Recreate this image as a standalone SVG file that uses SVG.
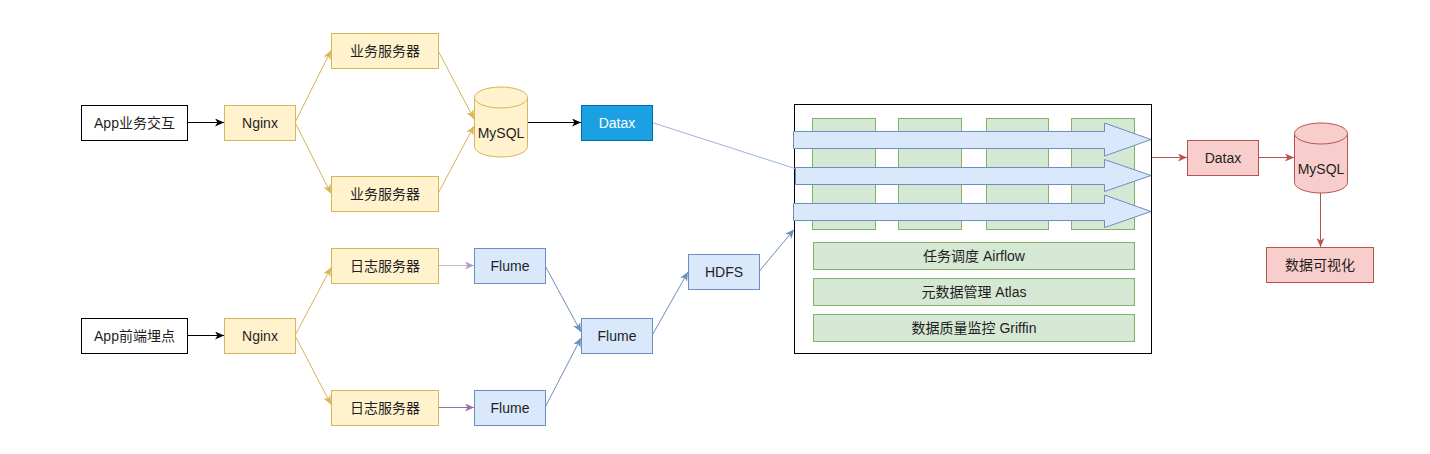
<svg xmlns="http://www.w3.org/2000/svg" width="1430" height="454" viewBox="0 0 1430 454">
<style>
text{font-family:"Liberation Sans","Noto Sans CJK SC",sans-serif;font-size:14px;fill:#1f1f1f;text-anchor:middle;dominant-baseline:central}
.plain{fill:#ffffff;stroke:#000000;stroke-width:1}
.yel{fill:#fff2cc;stroke:#d6b656;stroke-width:1}
.blu{fill:#dae8fc;stroke:#6c8ebf;stroke-width:1}
.grn{fill:#d5e8d4;stroke:#82b366;stroke-width:1}
.red{fill:#f8cecc;stroke:#b85450;stroke-width:1}
.dx{fill:#1ba1e2;stroke:#006eaf;stroke-width:1}
.c{fill:none;stroke-width:1}
.ck{stroke:#000000;marker-end:url(#mk)}
.cy{stroke:#d6b656;marker-end:url(#my)}
.cp{stroke:#9673a6;marker-end:url(#mp)}
.cpl{stroke:#c7b1d3;marker-end:url(#mpl)}
.cb{stroke:#6c8ebf;marker-end:url(#mb)}
.cbl{stroke:#9db3d8}
.cr{stroke:#b85450;marker-end:url(#mr)}
.wt{fill:#ffffff}
</style>
<defs>
<marker id="mk" markerWidth="10" markerHeight="8" refX="9" refY="4" orient="auto" markerUnits="userSpaceOnUse"><path d="M0,0 L9,4 L0,8 L2.5,4 Z" fill="#000000"/></marker>
<marker id="my" markerWidth="10" markerHeight="8" refX="9" refY="4" orient="auto" markerUnits="userSpaceOnUse"><path d="M0,0 L9,4 L0,8 L2.5,4 Z" fill="#d6b656"/></marker>
<marker id="mp" markerWidth="10" markerHeight="8" refX="9" refY="4" orient="auto" markerUnits="userSpaceOnUse"><path d="M0,0 L9,4 L0,8 L2.5,4 Z" fill="#9673a6"/></marker>
<marker id="mpl" markerWidth="10" markerHeight="8" refX="9" refY="4" orient="auto" markerUnits="userSpaceOnUse"><path d="M0,0 L9,4 L0,8 L2.5,4 Z" fill="#b59cc4"/></marker>
<marker id="mb" markerWidth="10" markerHeight="8" refX="9" refY="4" orient="auto" markerUnits="userSpaceOnUse"><path d="M0,0 L9,4 L0,8 L2.5,4 Z" fill="#6c8ebf"/></marker>
<marker id="mr" markerWidth="10" markerHeight="8" refX="9" refY="4" orient="auto" markerUnits="userSpaceOnUse"><path d="M0,0 L9,4 L0,8 L2.5,4 Z" fill="#b85450"/></marker>
</defs>
<rect width="1430" height="454" fill="#ffffff"/>

<g id="warehouse">
<rect class="plain" x="794.5" y="104.5" width="357" height="249"/>
</g>
<g id="col1"><rect class="grn" x="812.5" y="118.5" width="63" height="111"/></g>
<g id="col2"><rect class="grn" x="898.5" y="118.5" width="63" height="111"/></g>
<g id="col3"><rect class="grn" x="986.5" y="118.5" width="62" height="111"/></g>
<g id="col4"><rect class="grn" x="1071.5" y="118.5" width="63" height="111"/></g>
<g id="airflow"><rect class="grn" x="813.5" y="242.5" width="321" height="27"/><text x="974" y="256">任务调度 Airflow</text></g>
<g id="atlas"><rect class="grn" x="813.5" y="278.5" width="321" height="27"/><text x="974" y="292">元数据管理 Atlas</text></g>
<g id="griffin"><rect class="grn" x="813.5" y="314.5" width="321" height="27"/><text x="974" y="328">数据质量监控 Griffin</text></g>

<g id="connectors">
<line class="c ck" x1="187" y1="122.5" x2="224" y2="122.5"/>
<line class="c cy" x1="295" y1="122.5" x2="331" y2="50.5"/>
<line class="c cy" x1="295" y1="122.5" x2="331" y2="193.5"/>
<line class="c cy" x1="438" y1="50.5" x2="474" y2="119"/>
<line class="c cy" x1="438" y1="193.5" x2="474" y2="126"/>
<line class="c ck" x1="527" y1="122.5" x2="581" y2="122.5"/>
<line class="c cbl" x1="652" y1="122.5" x2="795" y2="168.5"/>
<line class="c ck" x1="187" y1="335.5" x2="224" y2="335.5"/>
<line class="c cy" x1="295" y1="335.5" x2="331" y2="267.5"/>
<line class="c cy" x1="295" y1="335.5" x2="331" y2="404.5"/>
<line class="c cpl" x1="438" y1="265.5" x2="474" y2="265.5"/>
<line class="c cp" x1="438" y1="407.5" x2="474" y2="407.5"/>
<line class="c cb" x1="545" y1="265.5" x2="581" y2="332"/>
<line class="c cb" x1="545" y1="407.5" x2="581" y2="338"/>
<line class="c cb" x1="652" y1="335.5" x2="688" y2="272"/>
<line class="c cb" x1="759" y1="271.5" x2="794" y2="229.5"/>
<line class="c cr" x1="1152" y1="157.5" x2="1187" y2="157.5"/>
<line class="c cr" x1="1258" y1="157.5" x2="1294" y2="157.5"/>
<line class="c cr" x1="1320.5" y1="193" x2="1320.5" y2="247"/>
</g>

<g id="flow1"><polygon class="blu" points="793.5,131.5 1104.5,131.5 1104.5,123 1151,139.5 1104.5,156 1104.5,148.5 793.5,148.5"/></g>
<g id="flow2"><polygon class="blu" points="795.5,167.5 1104.5,167.5 1104.5,159.5 1151,175.5 1104.5,191.5 1104.5,184.5 795.5,184.5"/></g>
<g id="flow3"><polygon class="blu" points="793.5,203.5 1104.5,203.5 1104.5,195 1151,211.5 1104.5,227.5 1104.5,220.5 793.5,220.5"/></g>

<g id="app-biz"><rect class="plain" x="81.5" y="105.5" width="106" height="35"/><text x="134.5" y="123">App业务交互</text></g>
<g id="nginx1"><rect class="yel" x="224.5" y="105.5" width="71" height="35"/><text x="260" y="123">Nginx</text></g>
<g id="biz-server1"><rect class="yel" x="331.5" y="33.5" width="107" height="35"/><text x="385" y="51">业务服务器</text></g>
<g id="biz-server2"><rect class="yel" x="331.5" y="176.5" width="107" height="35"/><text x="385" y="194">业务服务器</text></g>
<g id="mysql1">
<path class="yel" d="M474.5,97.5 A26.5,10.5 0 0 1 527.5,97.5 V146.5 A26.5,10.5 0 0 1 474.5,146.5 Z"/>
<path class="yel" fill="none" d="M474.5,97.5 A26.5,10.5 0 0 0 527.5,97.5"/>
<text x="501" y="133">MySQL</text>
</g>
<g id="datax1"><rect class="dx" x="581.5" y="105.5" width="71" height="35"/><text class="wt" x="617" y="123">Datax</text></g>

<g id="app-front"><rect class="plain" x="81.5" y="318.5" width="106" height="35"/><text x="134.5" y="336">App前端埋点</text></g>
<g id="nginx2"><rect class="yel" x="224.5" y="318.5" width="71" height="35"/><text x="260" y="336">Nginx</text></g>
<g id="log-server1"><rect class="yel" x="331.5" y="248.5" width="107" height="35"/><text x="385" y="266">日志服务器</text></g>
<g id="log-server2"><rect class="yel" x="331.5" y="390.5" width="107" height="35"/><text x="385" y="408">日志服务器</text></g>
<g id="flume1"><rect class="blu" x="474.5" y="248.5" width="71" height="35"/><text x="510" y="266">Flume</text></g>
<g id="flume2"><rect class="blu" x="474.5" y="390.5" width="71" height="35"/><text x="510" y="408">Flume</text></g>
<g id="flume3"><rect class="blu" x="581.5" y="318.5" width="71" height="35"/><text x="617" y="336">Flume</text></g>
<g id="hdfs"><rect class="blu" x="688.5" y="254.5" width="71" height="35"/><text x="724" y="272">HDFS</text></g>

<g id="datax2"><rect class="red" x="1187.5" y="140.5" width="71" height="35"/><text x="1223" y="158">Datax</text></g>
<g id="mysql2">
<path class="red" d="M1294.5,133.5 A26.5,10.5 0 0 1 1347.5,133.5 V182.5 A26.5,10.5 0 0 1 1294.5,182.5 Z"/>
<path class="red" fill="none" d="M1294.5,133.5 A26.5,10.5 0 0 0 1347.5,133.5"/>
<text x="1321" y="169">MySQL</text>
</g>
<g id="dataviz"><rect class="red" x="1266.5" y="247.5" width="107" height="35"/><text x="1320" y="265">数据可视化</text></g>
</svg>
